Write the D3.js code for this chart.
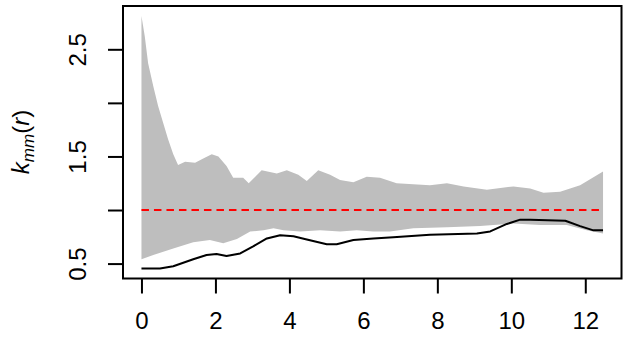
<!DOCTYPE html>
<html>
<head>
<meta charset="utf-8">
<script src="https://cdn.jsdelivr.net/npm/d3@7"></script>
<style>
  body { margin: 0; background: #fff; }
  svg text { font-family: "Liberation Sans", Arial, sans-serif; }
</style>
</head>
<body>
<svg width="631" height="344"></svg>
<script>
// envelope upper bound (r, value)
const upperR = [0, 0.09, 0.18, 0.32, 0.45, 0.59, 0.72, 0.86, 0.99, 1.18, 1.45, 1.67, 1.9, 2.08, 2.3, 2.48,
  2.75, 2.9, 3.25, 3.66, 3.93, 4.24, 4.47, 4.78, 5.1, 5.37, 5.73, 6.09, 6.45, 6.9, 7.8, 8.26, 8.71,
  9.34, 10.06, 10.51, 10.87, 11.32, 11.86, 12.48];
const upperV = [2.81, 2.62, 2.37, 2.155, 1.97, 1.81, 1.66, 1.52, 1.42, 1.45, 1.44, 1.48, 1.52, 1.50, 1.41, 1.30,
  1.30, 1.25, 1.37, 1.34, 1.37, 1.33, 1.27, 1.37, 1.33, 1.28, 1.26, 1.31, 1.30, 1.25, 1.23, 1.25, 1.22,
  1.19, 1.22, 1.20, 1.16, 1.17, 1.23, 1.36];

// envelope lower bound
const lowerR = [0, 0.32, 0.86, 1.4, 1.85, 2.21, 2.58, 2.94, 3.3, 3.57, 3.84, 4.29, 4.83, 5.37, 5.82,
  6.27, 6.72, 7.35, 8.26, 9.16, 10.06, 10.78, 11.5, 12.04, 12.48];
const lowerV = [0.54, 0.58, 0.64, 0.70, 0.72, 0.69, 0.73, 0.80, 0.81, 0.83, 0.81, 0.80, 0.81, 0.80, 0.81,
  0.80, 0.80, 0.83, 0.84, 0.85, 0.875, 0.86, 0.86, 0.81, 0.78];

// observed k_mm(r)
const obsR = [0, 0.5, 0.86, 1.4, 1.76, 2.03, 2.3, 2.67, 3.02, 3.39, 3.75, 4.11, 4.47, 5.01, 5.28,
  5.73, 6.27, 6.81, 7.8, 9.07, 9.43, 9.88, 10.24, 10.51, 11.46, 11.86, 12.22, 12.48];
const obsV = [0.455, 0.455, 0.475, 0.54, 0.58, 0.59, 0.57, 0.595, 0.66, 0.735, 0.765, 0.755, 0.725, 0.68, 0.68,
  0.72, 0.735, 0.745, 0.77, 0.78, 0.80, 0.87, 0.91, 0.91, 0.90, 0.85, 0.81, 0.81];

const refValue = 1;
const xTicks = [0, 2, 4, 6, 8, 10, 12];
const yTicks = [0.5, 1.0, 1.5, 2.0, 2.5];
const yLabelled = [0.5, 1.5, 2.5];

const svg = d3.select("svg");
const mLeft = 123, mRight = 621.5, mTop = 6, mBottom = 278.5;

// R style 4% padding on the data range
const pad = (lo, hi) => { const d = (hi - lo) * 0.04; return [lo - d, hi + d]; };
const allV = upperV.concat(lowerV, obsV);
const x = d3.scaleLinear().domain(pad(0, d3.max(upperR))).range([mLeft, mRight]);
const y = d3.scaleLinear().domain(pad(d3.min(allV), d3.max(allV))).range([mBottom, mTop]);

const line = d3.line().x(d => x(d[0])).y(d => y(d[1]));

// grey envelope polygon: upper forward, lower backward
const upperPts = upperR.map((r, i) => [r, upperV[i]]);
const lowerPts = lowerR.map((r, i) => [r, lowerV[i]]).reverse();
svg.append("path")
  .attr("d", line(upperPts.concat(lowerPts)) + "Z")
  .attr("fill", "#bebebe")
  .attr("stroke", "none");

// red dashed reference at 1
svg.append("line")
  .attr("x1", x(0)).attr("x2", x(d3.max(upperR)))
  .attr("y1", y(refValue)).attr("y2", y(refValue))
  .attr("stroke", "#ff0000")
  .attr("stroke-width", 2)
  .attr("stroke-dasharray", "7.5,5");

// observed line
svg.append("path")
  .attr("d", line(obsR.map((r, i) => [r, obsV[i]])))
  .attr("fill", "none")
  .attr("stroke", "#000")
  .attr("stroke-width", 2)
  .attr("stroke-linejoin", "round");

// box
svg.append("rect")
  .attr("x", mLeft).attr("y", mTop)
  .attr("width", mRight - mLeft).attr("height", mBottom - mTop)
  .attr("fill", "none").attr("stroke", "#000").attr("stroke-width", 2);

// x axis
const xAxis = svg.append("g")
  .attr("transform", `translate(0,${mBottom})`)
  .call(d3.axisBottom(x).tickValues(xTicks).tickSize(15).tickSizeOuter(0).tickPadding(18));
xAxis.select(".domain").remove();
xAxis.selectAll(".tick line").attr("stroke-width", 2);
xAxis.selectAll(".tick text")
  .attr("font-size", 24)
  .attr("fill", "#000")
  .style("font-family", "Liberation Sans, Arial, sans-serif");

// y axis, labels rotated like R's default las=0
const yAxis = svg.append("g")
  .attr("transform", `translate(${mLeft},0)`)
  .call(d3.axisLeft(y).tickValues(yTicks).tickSize(15).tickSizeOuter(0)
    .tickFormat(d => yLabelled.includes(d) ? d3.format(".1f")(d) : ""));
yAxis.select(".domain").remove();
yAxis.selectAll(".tick line").attr("stroke-width", 2);
yAxis.selectAll(".tick text")
  .attr("x", null)
  .attr("text-anchor", "middle")
  .attr("transform", "translate(-45,0) rotate(-90)")
  .attr("dy", "0.35em")
  .attr("font-size", 24)
  .attr("fill", "#000")
  .style("font-family", "Liberation Sans, Arial, sans-serif");

// y axis title k_mm(r)
const yt = svg.append("text")
  .attr("transform", "translate(29,142) rotate(-90)")
  .attr("text-anchor", "middle")
  .attr("font-size", 24)
  .attr("fill", "#000");
yt.append("tspan").attr("font-style", "italic").text("k");
yt.append("tspan").attr("font-style", "italic").attr("font-size", 17).attr("dy", 5).text("mm");
yt.append("tspan").attr("dy", -5).text("(");
yt.append("tspan").attr("font-style", "italic").text("r");
yt.append("tspan").text(")");
</script>
</body>
</html>
